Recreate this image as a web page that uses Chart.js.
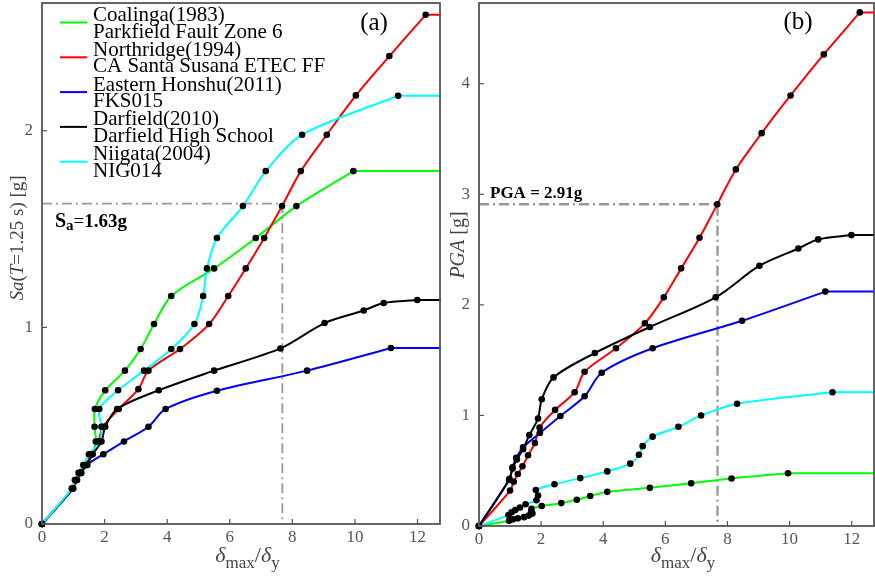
<!DOCTYPE html>
<html>
<head>
<meta charset="utf-8">
<script src="https://cdn.jsdelivr.net/npm/chart.js"></script>
<style>
  html, body { margin: 0; padding: 0; background: #fff; }
  #wrap { position: relative; width: 875px; height: 584px; }
  canvas { position: absolute; top: 0; }
  #ca { left: 0; }
  #cb { left: 441px; }
</style>
</head>
<body>
<div id="wrap">
  <canvas id="ca" width="441" height="584"></canvas>
  <canvas id="cb" width="434" height="584"></canvas>
</div>
<script>
// records shown in both panels
const recordNames = ['Coalinga(1983)', 'Northridge(1994)', 'Eastern Honshu(2011)', 'Darfield(2010)', 'Niigata(2004)'];
const stationNames = ['Parkfield Fault Zone 6', 'CA Santa Susana ETEC FF', 'FKS015', 'Darfield High School', 'NIG014'];
const recordColors = ['#00ff00', '#ff0000', '#0000ff', '#000000', '#00ffff'];

// ductility demand (delta_max / delta_y) and intensity at each analysis
const coalingaDuct = [0, 0.97, 1.10, 1.25, 1.45, 1.60, 1.72, 1.68, 1.69, 2.02, 2.65, 3.15, 3.58, 4.13, 5.50, 6.83, 8.13, 9.95];
const coalingaSa   = [0, 0.18, 0.224, 0.26, 0.30, 0.355, 0.42, 0.495, 0.585, 0.68, 0.78, 0.89, 1.017, 1.16, 1.30, 1.455, 1.617, 1.795];
const coalingaPga  = [0, 0.048, 0.060, 0.069, 0.080, 0.094, 0.112, 0.132, 0.156, 0.181, 0.207, 0.237, 0.271, 0.309, 0.346, 0.387, 0.430, 0.477];

const northridgeDuct = [0, 1.00, 1.12, 1.25, 1.40, 1.58, 1.80, 1.95, 2.45, 3.08, 3.40, 4.41, 5.34, 5.95, 6.51, 7.10, 7.67, 8.27, 9.10, 10.03, 11.10, 12.26];
const northridgeSa   = [0, 0.18, 0.224, 0.26, 0.30, 0.355, 0.42, 0.495, 0.585, 0.686, 0.78, 0.89, 1.017, 1.16, 1.30, 1.455, 1.617, 1.795, 1.98, 2.18, 2.38, 2.59];
const northridgePga  = [0, 0.32, 0.40, 0.47, 0.54, 0.64, 0.75, 0.89, 1.05, 1.21, 1.395, 1.607, 1.833, 2.068, 2.33, 2.607, 2.909, 3.225, 3.553, 3.894, 4.265, 4.645];

const honshuDuct = [0, 0.98, 1.08, 1.20, 1.42, 1.96, 2.62, 3.40, 3.95, 5.59, 8.47, 11.15];
const honshuSa   = [0, 0.18, 0.224, 0.26, 0.30, 0.355, 0.42, 0.495, 0.585, 0.678, 0.78, 0.895];
const honshuPga  = [0, 0.427, 0.531, 0.616, 0.711, 0.841, 0.995, 1.173, 1.386, 1.607, 1.856, 2.12];

const darfieldDuct = [0, 0.97, 1.08, 1.22, 1.42, 1.62, 1.90, 2.02, 2.40, 3.73, 5.50, 7.62, 9.03, 10.28, 10.92, 11.99];
const darfieldSa   = [0, 0.18, 0.224, 0.26, 0.30, 0.355, 0.42, 0.495, 0.585, 0.68, 0.78, 0.893, 1.022, 1.086, 1.124, 1.139];
const darfieldPga  = [0, 0.417, 0.519, 0.602, 0.695, 0.822, 0.972, 1.146, 1.344, 1.564, 1.80, 2.068, 2.354, 2.51, 2.592, 2.631];

const niigataDuct = [0, 0.95, 1.05, 1.17, 1.32, 1.50, 1.85, 1.90, 1.83, 2.43, 3.26, 4.13, 4.87, 5.15, 5.27, 5.59, 6.42, 7.15, 8.31, 11.38];
const niigataSa   = [0, 0.18, 0.224, 0.26, 0.30, 0.355, 0.42, 0.495, 0.585, 0.68, 0.78, 0.89, 1.017, 1.16, 1.30, 1.455, 1.617, 1.795, 1.98, 2.178];
const niigataPga  = [0, 0.100, 0.124, 0.144, 0.167, 0.197, 0.233, 0.275, 0.325, 0.377, 0.433, 0.494, 0.564, 0.644, 0.722, 0.808, 0.897, 1.0, 1.106, 1.209];

// reference level marked on both panels
const ductRef = 7.68;
const saRef = 1.63;
const pgaRef = 2.91;

const FONT = "'Liberation Serif', 'DejaVu Serif', serif";
const AXIS_GRAY = '#555555';
const TEXT_GRAY = '#444444';
const REF_GRAY = '#999999';

const pts = (xs, ys) => xs.map((x, i) => ({ x: x, y: ys[i] }));

function buildDatasets(ductArrays, imArrays, refIm, refWidth) {
  const sets = [];
  ductArrays.forEach((xs, i) => {
    const ys = imArrays[i];
    const last = xs.length - 1;
    // response curve
    sets.push({
      data: pts(xs, ys), showLine: true, borderColor: recordColors[i], borderWidth: 2,
      pointRadius: 0, tension: 0.3, order: 10 - i
    });
    // collapse plateau to the right edge
    sets.push({
      data: [{ x: xs[last], y: ys[last] }, { x: 13.5, y: ys[last] }], showLine: true,
      borderColor: recordColors[i], borderWidth: 2, pointRadius: 0, tension: 0, order: 10 - i
    });
    // analysis markers
    sets.push({
      data: pts(xs, ys), showLine: false, pointRadius: 3.3, pointBackgroundColor: '#000',
      pointBorderColor: '#000', pointBorderWidth: 0, order: 0, clip: false
    });
  });
  sets.push({
    data: [{ x: 0, y: refIm }, { x: ductRef, y: refIm }, { x: ductRef, y: 0 }],
    showLine: true, borderColor: REF_GRAY, borderWidth: refWidth, borderDash: [10, 4, 2, 4],
    pointRadius: 0, tension: 0, order: 20
  });
  return sets;
}

function drawParts(ctx, parts, x, y, align) {
  let w = 0;
  parts.forEach(p => { ctx.font = p.font; w += ctx.measureText(p.t).width; });
  let cx = align === 'center' ? x - w / 2 : x;
  ctx.textAlign = 'left';
  ctx.textBaseline = 'alphabetic';
  parts.forEach(p => {
    ctx.font = p.font;
    ctx.fillStyle = p.color || '#000';
    ctx.fillText(p.t, cx, y + (p.dy || 0));
    cx += ctx.measureText(p.t).width;
  });
}

function frame(chart) {
  const ctx = chart.ctx, a = chart.chartArea;
  ctx.save();
  ctx.strokeStyle = AXIS_GRAY;
  ctx.lineWidth = 1.8;
  ctx.strokeRect(a.left, a.top, a.right - a.left - 1, a.bottom - a.top);
  ctx.lineWidth = 1.2;
  chart.scales.x.ticks.forEach(t => {
    const px = chart.scales.x.getPixelForValue(t.value);
    ctx.beginPath(); ctx.moveTo(px, a.bottom); ctx.lineTo(px, a.bottom - 5); ctx.stroke();
  });
  chart.scales.y.ticks.forEach(t => {
    const py = chart.scales.y.getPixelForValue(t.value);
    ctx.beginPath(); ctx.moveTo(a.left, py); ctx.lineTo(a.left + 5, py); ctx.stroke();
  });
  ctx.restore();
}

function xTitle(chart) {
  const ctx = chart.ctx, a = chart.chartArea;
  const c = TEXT_GRAY;
  drawParts(ctx, [
    { t: 'δ', font: 'italic 22px ' + FONT, color: c },
    { t: 'max', font: '17px ' + FONT, dy: 6, color: c },
    { t: '/', font: '22px ' + FONT, color: c },
    { t: 'δ', font: 'italic 22px ' + FONT, color: c },
    { t: 'y', font: '17px ' + FONT, dy: 6, color: c }
  ], (a.left + a.right) / 2 + 6, 562, 'center');
}

function fixBox(size, key) {
  return s => {
    s[key] = size;
    s.paddingTop = 0; s.paddingBottom = 0; s.paddingLeft = 0; s.paddingRight = 0;
  };
}

function makeOptions(yMax, yWidth, xHeight) {
  const tickFont = { family: FONT, size: 17 };
  return {
    responsive: false,
    animation: false,
    events: [],
    layout: { autoPadding: false, padding: { top: 3, left: 0, right: 0, bottom: 0 } },
    plugins: { legend: { display: false }, tooltip: { enabled: false } },
    scales: {
      x: {
        type: 'linear', min: 0, max: 12.75,
        grid: { display: false, drawTicks: false },
        border: { display: false },
        ticks: { stepSize: 2, includeBounds: false, font: tickFont, color: AXIS_GRAY, padding: 3, maxRotation: 0 },
        afterFit: fixBox(xHeight, 'height')
      },
      y: {
        type: 'linear', min: 0, max: yMax,
        grid: { display: false, drawTicks: false },
        border: { display: false },
        ticks: { stepSize: 1, includeBounds: false, font: tickFont, color: AXIS_GRAY, padding: 9 },
        afterFit: fixBox(yWidth, 'width')
      }
    }
  };
}

// ---- panel (a): Sa(T=1.25 s)
new Chart(document.getElementById('ca'), {
  type: 'scatter',
  data: {
    datasets: buildDatasets(
      [coalingaDuct, northridgeDuct, honshuDuct, darfieldDuct, niigataDuct],
      [coalingaSa, northridgeSa, honshuSa, darfieldSa, niigataSa], saRef, 1.8)
  },
  options: makeOptions(2.65, 42, 60),
  plugins: [{
    id: 'decorA',
    afterDraw(chart) {
      const ctx = chart.ctx;
      frame(chart);
      xTitle(chart);
      // y title
      ctx.save();
      ctx.translate(23, 238);
      ctx.rotate(-Math.PI / 2);
      drawParts(ctx, [
        { t: 'Sa', font: 'italic 19px ' + FONT, color: TEXT_GRAY },
        { t: '(', font: '19px ' + FONT, color: TEXT_GRAY },
        { t: 'T', font: 'italic 19px ' + FONT, color: TEXT_GRAY },
        { t: '=1.25 s) [g]', font: '19px ' + FONT, color: TEXT_GRAY }
      ], 0, 0, 'center');
      ctx.restore();
      // legend
      ctx.save();
      recordNames.forEach((name, i) => {
        const y1 = 15.5 + 34.8 * i;
        ctx.strokeStyle = recordColors[i];
        ctx.lineWidth = 2;
        ctx.beginPath(); ctx.moveTo(60, y1 + 7); ctx.lineTo(87, y1 + 7); ctx.stroke();
        ctx.fillStyle = '#000';
        ctx.font = '21px ' + FONT;
        ctx.textAlign = 'left';
        ctx.textBaseline = 'middle';
        ctx.fillText(name, 93, y1);
        ctx.fillText(stationNames[i], 93, y1 + 16.5);
      });
      ctx.font = '25px ' + FONT;
      ctx.textAlign = 'center';
      ctx.fillText('(a)', 374, 23);
      ctx.restore();
      drawParts(ctx, [
        { t: 'S', font: 'bold 20px ' + FONT },
        { t: 'a', font: 'bold 15px ' + FONT, dy: 3 },
        { t: '=', font: '19px ' + FONT },
        { t: '1.63g', font: 'bold 19px ' + FONT }
      ], 55, 227, 'left');
    }
  }]
});

// ---- panel (b): PGA
new Chart(document.getElementById('cb'), {
  type: 'scatter',
  data: {
    datasets: buildDatasets(
      [coalingaDuct, northridgeDuct, honshuDuct, darfieldDuct, niigataDuct],
      [coalingaPga, northridgePga, honshuPga, darfieldPga, niigataPga], pgaRef, 2.4)
  },
  options: makeOptions(4.73, 38, 58),
  plugins: [{
    id: 'decorB',
    afterDraw(chart) {
      const ctx = chart.ctx;
      frame(chart);
      xTitle(chart);
      ctx.save();
      ctx.translate(23, 245);
      ctx.rotate(-Math.PI / 2);
      drawParts(ctx, [
        { t: 'PGA', font: 'italic 20px ' + FONT, color: TEXT_GRAY },
        { t: ' [g]', font: '20px ' + FONT, color: TEXT_GRAY }
      ], 0, 0, 'center');
      ctx.restore();
      ctx.save();
      ctx.fillStyle = '#000';
      ctx.font = '25px ' + FONT;
      ctx.textAlign = 'center';
      ctx.textBaseline = 'middle';
      ctx.fillText('(b)', 357, 22);
      ctx.restore();
      drawParts(ctx, [
        { t: 'PGA', font: 'bold 17px ' + FONT },
        { t: ' = 2.91g', font: 'bold 17px ' + FONT }
      ], 49, 198, 'left');
    }
  }]
});
</script>
</body>
</html>
